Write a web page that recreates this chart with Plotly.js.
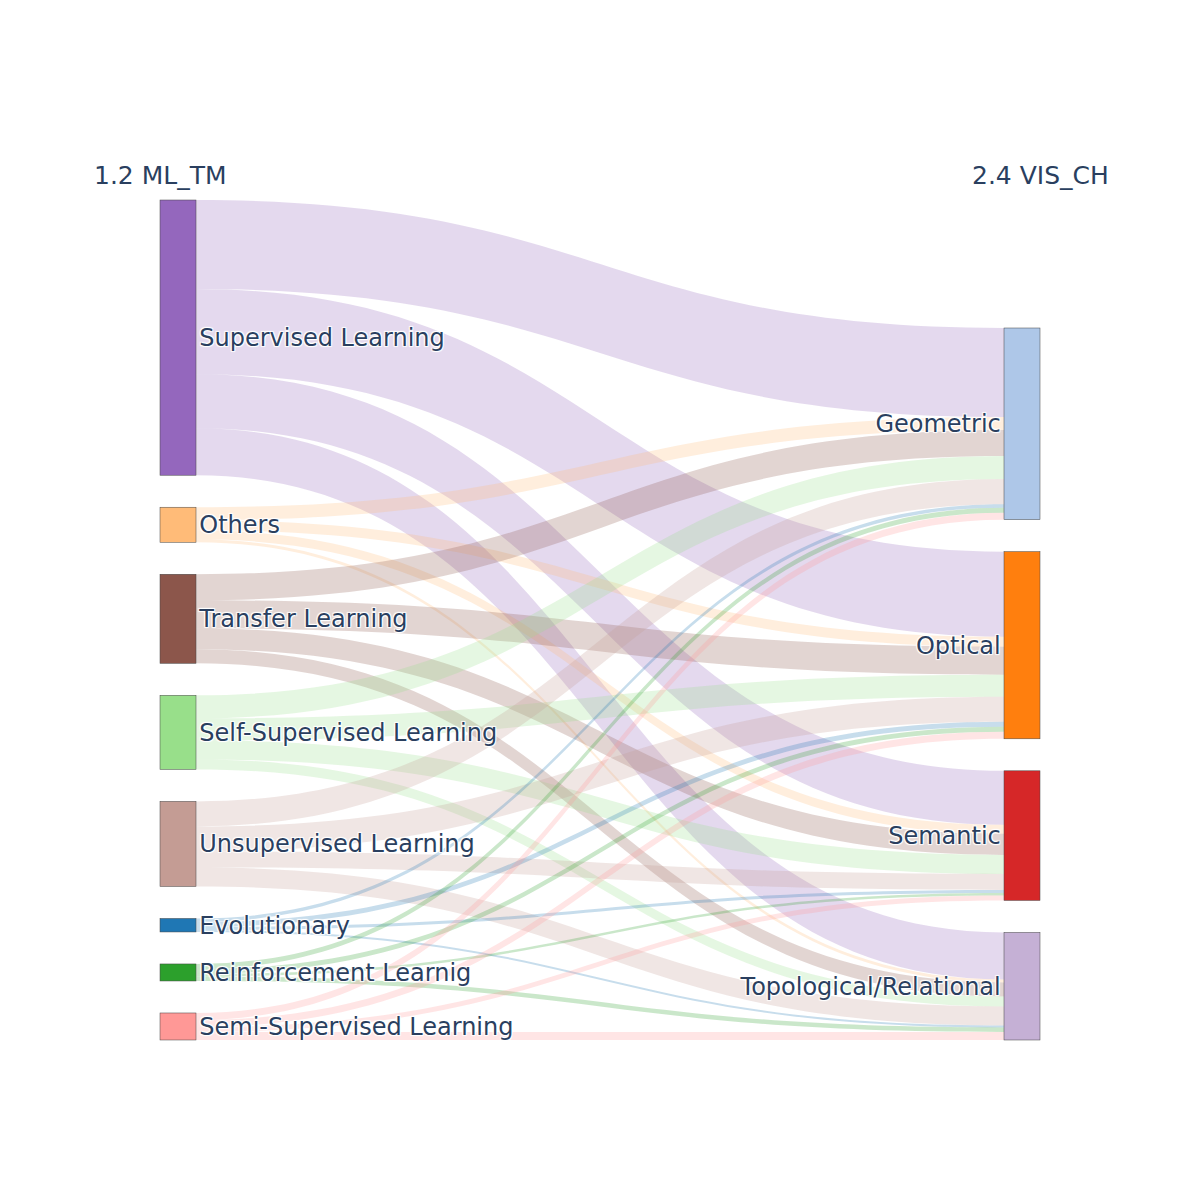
<!DOCTYPE html>
<html>
<head>
<meta charset="utf-8">
<script src="https://cdn.plot.ly/plotly-3.0.1.min.js"></script>
<style>
  html, body { margin: 0; padding: 0; background: #fff; }
  #chart { width: 1200px; height: 1200px; }
</style>
</head>
<body>
<div id="chart"></div>
<script>
// Machine-learning technique (1.2 ML_TM) -> visual characteristic (2.4 VIS_CH)
const sourceLabels = [
  "Supervised Learning", "Others", "Transfer Learning", "Self-Supervised Learning",
  "Unsupervised Learning", "Evolutionary", "Reinforcement Learnig", "Semi-Supervised Learning"
];
const targetLabels = ["Geometric", "Optical", "Semantic", "Topological/Relational"];

const sourceColors = ["#9467bd", "#ffbb78", "#8c564b", "#98df8a", "#c49c94", "#1f77b4", "#2ca02c", "#ff9896"];
const targetColors = ["#aec7e8", "#ff7f0e", "#d62728", "#c5b0d5"];

// One entry per technique, in sourceLabels order
const toGeometric   = [89, 13, 26, 23, 25, 3.5, 5,   7];
const toOptical     = [85, 10, 28, 22, 25, 5,   5,   7];
const toSemantic    = [54, 9,  21, 19, 16, 3,   2.5, 5];
const toTopological = [47, 3,  14, 10, 19, 2,   4.5, 8];

const flows = [toGeometric, toOptical, toSemantic, toTopological];

function hexToRgba(hex, a) {
  const n = parseInt(hex.slice(1), 16);
  return `rgba(${(n >> 16) & 255},${(n >> 8) & 255},${n & 255},${a})`;
}

const labels = sourceLabels.concat(targetLabels);
const nodeColors = sourceColors.concat(targetColors);

const src = [], tgt = [], val = [], linkColors = [];
sourceLabels.forEach((_, i) => {
  flows.forEach((col, j) => {
    src.push(i);
    tgt.push(sourceLabels.length + j);
    val.push(col[i]);
    linkColors.push(hexToRgba(sourceColors[i], 0.25));
  });
});

const fontFamily = "Verdana, 'DejaVu Sans', sans-serif";

const data = [{
  type: "sankey",
  orientation: "h",
  node: {
    label: labels,
    color: nodeColors,
    thickness: 36,
    pad: 32,
    line: { color: "#444", width: 0.5 }
  },
  link: {
    source: src,
    target: tgt,
    value: val,
    color: linkColors
  },
  textfont: { family: fontFamily, size: 24, color: "#2a3f5f" }
}];

const layout = {
  width: 1200,
  height: 1200,
  margin: { l: 160, r: 160, t: 200, b: 160 },
  paper_bgcolor: "#fff",
  font: { family: fontFamily, size: 24, color: "#2a3f5f" },
  annotations: [
    { text: "1.2 ML_TM", x: 0, y: 1.01, xref: "paper", yref: "paper",
      xanchor: "center", yanchor: "bottom", showarrow: false,
      font: { size: 25, color: "#2a3f5f" } },
    { text: "2.4 VIS_CH", x: 1, y: 1.01, xref: "paper", yref: "paper",
      xanchor: "center", yanchor: "bottom", showarrow: false,
      font: { size: 25, color: "#2a3f5f" } }
  ]
};

Plotly.newPlot("chart", data, layout, { displayModeBar: false });
</script>
</body>
</html>
